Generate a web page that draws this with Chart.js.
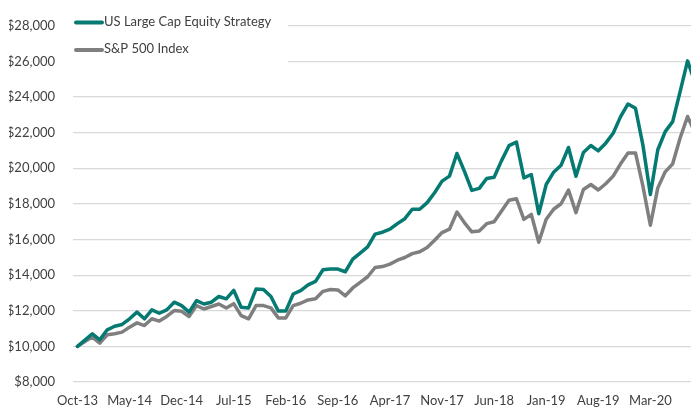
<!DOCTYPE html>
<html>
<head>
<meta charset="utf-8">
<script src="https://cdn.jsdelivr.net/npm/chart.js@4.4.0/dist/chart.umd.min.js"></script>
<style>
  html, body { margin: 0; padding: 0; background: #fff; overflow: hidden; }
  #wrap { position: relative; width: 698px; height: 409px; }
</style>
</head>
<body>
<div id="wrap"><canvas id="growthChart"></canvas></div>
<script>
// monthly categories, Oct-13 .. Sep-20
const months = [
  'Oct-13','Nov-13','Dec-13',
  'Jan-14','Feb-14','Mar-14','Apr-14','May-14','Jun-14','Jul-14','Aug-14','Sep-14','Oct-14','Nov-14','Dec-14',
  'Jan-15','Feb-15','Mar-15','Apr-15','May-15','Jun-15','Jul-15','Aug-15','Sep-15','Oct-15','Nov-15','Dec-15',
  'Jan-16','Feb-16','Mar-16','Apr-16','May-16','Jun-16','Jul-16','Aug-16','Sep-16','Oct-16','Nov-16','Dec-16',
  'Jan-17','Feb-17','Mar-17','Apr-17','May-17','Jun-17','Jul-17','Aug-17','Sep-17','Oct-17','Nov-17','Dec-17',
  'Jan-18','Feb-18','Mar-18','Apr-18','May-18','Jun-18','Jul-18','Aug-18','Sep-18','Oct-18','Nov-18','Dec-18',
  'Jan-19','Feb-19','Mar-19','Apr-19','May-19','Jun-19','Jul-19','Aug-19','Sep-19','Oct-19','Nov-19','Dec-19',
  'Jan-20','Feb-20','Mar-20','Apr-20','May-20','Jun-20','Jul-20','Aug-20','Sep-20'
];

// which months get a label on the x axis (every 7th)
const tickIndex = [0, 7, 14, 21, 28, 35, 42, 49, 56, 63, 70, 77];

// growth of $10,000
const strategy = [
  10000, 10350, 10710,
  10370, 10930, 11130, 11230, 11550, 11920, 11550, 12050, 11860, 12050, 12480, 12290,
  11920, 12570, 12380, 12480, 12800, 12670, 13150, 12200, 12160, 13220, 13190, 12800,
  11980, 11980, 12940, 13130, 13450, 13650, 14300, 14340, 14340, 14190, 14900, 15240,
  15590, 16300, 16410, 16580, 16890, 17170, 17700, 17700, 18070, 18630, 19280, 19560,
  20830, 19840, 18760, 18870, 19430, 19500, 20430, 21270, 21470, 19460, 19650, 17450,
  19090, 19780, 20170, 21170, 19550, 20890, 21280, 20980, 21410, 21970, 22900, 23610,
  23370, 21300, 18530, 21040, 22060, 22620, 24300, 26030, 24800
];

const sp500 = [
  10000, 10270, 10520,
  10180, 10650, 10710, 10800, 11080, 11320, 11170, 11550, 11420, 11680, 12010, 11970,
  11680, 12290, 12100, 12240, 12380, 12150, 12400, 11730, 11550, 12290, 12290, 12160,
  11600, 11600, 12290, 12420, 12610, 12670, 13090, 13190, 13170, 12840, 13280, 13590,
  13910, 14430, 14480, 14620, 14840, 14990, 15210, 15310, 15550, 15960, 16390, 16580,
  17540, 16950, 16430, 16480, 16890, 17000, 17600, 18210, 18290, 17130, 17410, 15850,
  17140, 17700, 18010, 18780, 17510, 18810, 19090, 18780, 19130, 19560, 20250, 20860,
  20860, 19000, 16800, 18900, 19800, 20250, 21700, 22910, 22000
];

const seriesNames = ['US Large Cap Equity Strategy', 'S&P 500 Index'];

const FONT = 'Lato, "Open Sans", sans-serif';

// white legend box drawn over the top left of the plot
const legendBox = {
  id: 'legendBox',
  afterDraw(chart) {
    const ctx = chart.ctx;
    const left = chart.chartArea.left;
    ctx.save();
    ctx.fillStyle = '#ffffff';
    ctx.fillRect(left, 0, 215, 68);
    ctx.font = '13px ' + FONT;
    ctx.textBaseline = 'middle';
    chart.data.datasets.forEach((ds, i) => {
      const y = 22.5 + i * 27.5;
      ctx.strokeStyle = ds.borderColor;
      ctx.lineWidth = 4;
      ctx.lineCap = 'round';
      ctx.beginPath();
      ctx.moveTo(left + 3, y);
      ctx.lineTo(left + 29, y);
      ctx.stroke();
      ctx.fillStyle = '#404040';
      ctx.fillText(ds.label, left + 31, y - 1);
    });
    ctx.restore();
  }
};

const ctx = document.getElementById('growthChart').getContext('2d');
const chart = new Chart(ctx, {
  type: 'line',
  data: {
    datasets: [{
      label: seriesNames[0],
      data: strategy.map((v, i) => ({ x: i, y: v })),
      borderColor: '#047a72',
      borderWidth: 3.5,
      pointRadius: 0,
      tension: 0,
      borderJoinStyle: 'round',
      borderCapStyle: 'round'
    }, {
      label: seriesNames[1],
      data: sp500.map((v, i) => ({ x: i, y: v })),
      borderColor: '#7f7f7f',
      borderWidth: 3.5,
      pointRadius: 0,
      tension: 0,
      borderJoinStyle: 'round',
      borderCapStyle: 'round'
    }]
  },
  options: {
    responsive: true,
    maintainAspectRatio: false,
    animation: false,
    layout: { padding: { left: 9, top: 24, right: 3, bottom: 0 } },
    plugins: {
      legend: { display: false },
      tooltip: { enabled: false }
    },
    scales: {
      x: {
        type: 'linear',
        min: -0.6,
        max: 83,
        grid: { display: false, drawTicks: false },
        border: { display: false },
        afterBuildTicks: (scale) => { scale.ticks = tickIndex.map(v => ({ value: v })); },
        afterFit: (scale) => { scale.height = 27; },
        ticks: {
          autoSkip: false,
          maxRotation: 0,
          padding: 11,
          color: '#404040',
          font: { family: FONT, size: 13 },
          callback: (v) => months[v] || ''
        }
      },
      y: {
        min: 8000,
        max: 28000,
        grid: { color: '#d9d9d9', lineWidth: 1.2, drawTicks: false },
        border: { display: false },
        afterFit: (scale) => { scale.width = 64; },
        ticks: {
          stepSize: 2000,
          padding: 18,
          color: '#404040',
          font: { family: FONT, size: 13 },
          callback: (v) => '$' + v.toLocaleString('en-US')
        }
      }
    }
  },
  plugins: [legendBox]
});
</script>
</body>
</html>
